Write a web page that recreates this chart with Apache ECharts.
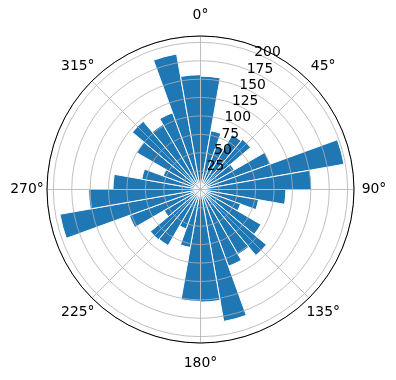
<!DOCTYPE html>
<html>
<head>
<meta charset="utf-8">
<script src="https://cdn.jsdelivr.net/npm/echarts@6/dist/echarts.min.js"></script>
<style>
  html, body { margin: 0; background: #fff; }
  #main { width: 396px; height: 380px; }
</style>
</head>
<body>
<div id="main"></div>
<script>
// bin start angles (deg, clockwise from north), each bin is 10 deg wide
const binStarts = [0, 10, 20, 30, 40, 50, 60, 70, 80, 90, 100, 110,
  120, 130, 140, 150, 160, 170, 180, 190, 200, 210, 220, 230,
  240, 250, 260, 270, 280, 290, 300, 310, 320, 330, 340, 350];
// bar lengths
const radii = [154, 81, 63, 86, 89, 53, 101, 198, 151, 116, 80, 58,
  95, 117, 102, 111, 182, 153, 152, 80, 57, 88, 89, 57,
  103, 194, 152, 119, 81, 54, 100, 121, 102, 111, 187, 156];
const radialTicks = [25, 50, 75, 100, 125, 150, 175, 200];
const angleTicks = [0, 45, 90, 135, 180, 225, 270, 315];
const rMax = 208.6;

const font = 'DejaVu Sans';
let chart = echarts.init(document.getElementById('main'));

chart.setOption({
  animation: false,
  backgroundColor: '#fff',
  polar: [
    { center: [200.5, 189.5], radius: 153.5 },   // bars
    { center: [200.5, 189.5], radius: 153.5 },   // grid + angle labels
    { center: [208.1, 183.0], radius: 149.3 }    // radial tick labels
  ],
  angleAxis: [
    {
      polarIndex: 0, type: 'category', data: binStarts,
      startAngle: 90, clockwise: true, boundaryGap: true,
      axisLine: { show: false }, axisTick: { show: false },
      axisLabel: { show: false }, splitLine: { show: false }
    },
    {
      polarIndex: 1, type: 'value', min: 0, max: 360, interval: 45,
      startAngle: 90, clockwise: true, z: 12,
      axisLine: { lineStyle: { color: '#000', width: 1 } },
      axisTick: { show: false },
      axisLabel: {
        margin: 20, color: '#000', fontSize: 13.9, fontFamily: font,
        // zero-size box so every label is centred on its anchor point
        formatter: v => angleTicks.includes(v) ? '{c|' + v + '°}' : '',
        rich: {
          c: {
            width: 0, height: 1, lineHeight: 1, align: 'center', verticalAlign: 'middle',
            color: '#000', fontSize: 13.9, fontFamily: font
          }
        }
      },
      splitLine: { lineStyle: { color: '#b0b0b0', width: 0.8 } }
    },
    {
      polarIndex: 2, type: 'value', min: 0, max: 360,
      startAngle: 65.5, clockwise: true, show: false
    }
  ],
  radiusAxis: [
    { polarIndex: 0, type: 'value', min: 0, max: rMax, show: false },
    {
      polarIndex: 1, type: 'value', min: 0, max: rMax, interval: 25, z: 10,
      axisLine: { show: false }, axisTick: { show: false },
      axisLabel: { show: false },
      splitLine: { lineStyle: { color: '#b0b0b0', width: 0.8 } }
    },
    {
      polarIndex: 2, type: 'value', min: 0, max: rMax, interval: 25, z: 13,
      axisLine: { show: false }, axisTick: { show: false },
      splitLine: { show: false },
      axisLabel: {
        margin: 0, align: 'center', verticalAlign: 'middle',
        color: '#000', fontSize: 13.9, fontFamily: font,
        showMinLabel: false,
        formatter: v => radialTicks.includes(v) ? String(v) : ''
      }
    }
  ],
  series: [
    {
      type: 'bar',
      coordinateSystem: 'polar',
      polarIndex: 0,
      data: radii,
      barCategoryGap: '0%',
      itemStyle: { color: '#1f77b4', borderColor: '#fff', borderWidth: 1 },
      z: 2
    }
  ]
});
</script>
</body>
</html>
